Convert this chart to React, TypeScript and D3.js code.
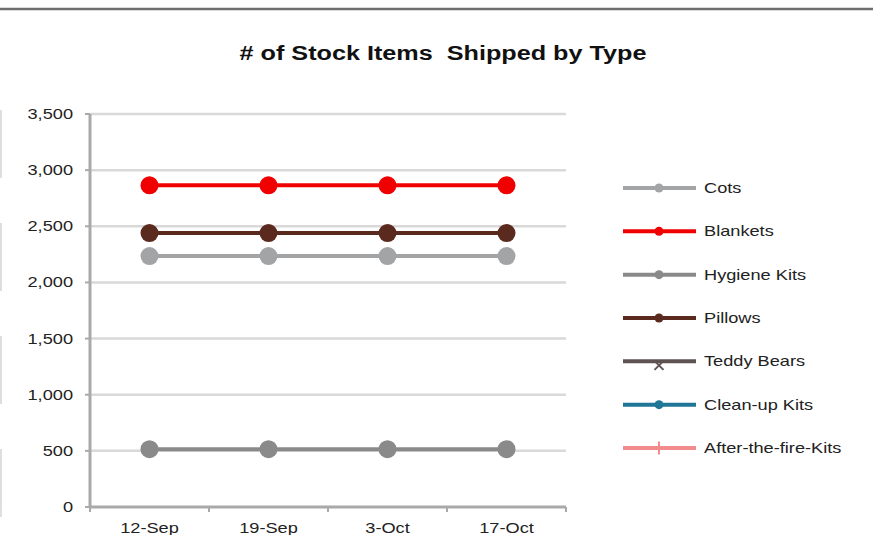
import React from 'react';
import * as d3 from 'd3';

const categories = ['12-Sep', '19-Sep', '3-Oct', '17-Oct'];
const yTicks = [0, 500, 1000, 1500, 2000, 2500, 3000, 3500];

const seriesNames = ['Cots', 'Blankets', 'Hygiene Kits', 'Pillows', 'Teddy Bears', 'Clean-up Kits', 'After-the-fire-Kits'];
const cots = [2235, 2235, 2235, 2235];
const blankets = [2865, 2865, 2865, 2865];
const hygieneKits = [515, 515, 515, 515];
const pillows = [2440, 2440, 2440, 2440];
const teddyBears: (number | null)[] = [null, null, null, null];
const cleanupKits: (number | null)[] = [null, null, null, null];
const afterFireKits: (number | null)[] = [null, null, null, null];

const seriesValues = [cots, blankets, hygieneKits, pillows, teddyBears, cleanupKits, afterFireKits];
const seriesColors = ['#a3a4a6', '#f00000', '#8a8a8a', '#5a2a1e', '#5f5252', '#1f7696', '#f28b8b'];
const seriesMarkers = ['circle', 'circle', 'circle', 'circle', 'x', 'circle', 'plus'];

const W = 873;
const H = 535;
const SX = 1.3; // wide-looking glyphs in the original
const font = '"Liberation Sans", Arial, sans-serif';

const App: React.FC = () => {
  const x = d3.scalePoint<string>().domain(categories).range([90, 566]).padding(0.5);
  const y = d3.scaleLinear().domain([0, 3500]).range([507, 114]);
  const step = x.step();
  const left = 90;
  const right = 566;

  const line = d3.line<number | null>()
    .defined(d => d != null)
    .x((_, i) => x(categories[i]) as number)
    .y(d => y(d as number));

  const legendY = d3.scaleLinear().domain([0, 6]).range([188, 448]);

  const marker = (kind: string, cx: number, cy: number, r: number, color: string) => {
    if (kind === 'x') {
      return (
        <g stroke={color} strokeWidth={2}>
          <line x1={cx - r} y1={cy - r + 4} x2={cx + r} y2={cy + r + 4} />
          <line x1={cx - r} y1={cy + r + 4} x2={cx + r} y2={cy - r + 4} />
        </g>
      );
    }
    if (kind === 'plus') {
      return <line x1={cx} y1={cy - r - 2} x2={cx} y2={cy + r + 2} stroke={color} strokeWidth={2} />;
    }
    return <circle cx={cx} cy={cy} r={r} fill={color} />;
  };

  return (
    <svg width={W} height={H} style={{ position: 'absolute', left: 0, top: 0, background: '#fff' }}>
      <rect x={0} y={0} width={W} height={H} fill="#fff" />
      <line x1={0} y1={9} x2={W} y2={9} stroke="#6e6e6e" strokeWidth={2.5} />
      <line x1={1} y1={110} x2={1} y2={520} stroke="#d4d4d4" strokeWidth={1.5} strokeDasharray="68 45" />

      <g transform={`translate(443,60)`}>
        <text transform={`scale(1.2,1)`} textAnchor="middle" fontFamily={font} fontWeight="bold" fontSize={21} fill="#111" style={{ whiteSpace: 'pre' }}>
          {'# of Stock Items  Shipped by Type'}
        </text>
      </g>

      {/* gridlines */}
      {yTicks.filter(t => t > 0).map(t => (
        <line key={t} x1={left} x2={right} y1={y(t)} y2={y(t)} stroke="#d9d9d9" strokeWidth={2.5} />
      ))}

      {/* y axis */}
      <line x1={left} x2={left} y1={y(3500)} y2={y(0)} stroke="#a9a9a9" strokeWidth={3} />
      {yTicks.map(t => (
        <g key={t}>
          <line x1={left - 5} x2={left} y1={y(t)} y2={y(t)} stroke="#a9a9a9" strokeWidth={2} />
          <g transform={`translate(73,${y(t) + 5})`}>
            <text transform={`scale(${SX},1)`} textAnchor="end" fontFamily={font} fontSize={14} fill="#222">
              {d3.format(',')(t)}
            </text>
          </g>
        </g>
      ))}

      {/* x axis */}
      <line x1={left} x2={right} y1={y(0)} y2={y(0)} stroke="#a9a9a9" strokeWidth={3} />
      {d3.range(categories.length + 1).map(i => (
        <line key={i} x1={left + i * step} x2={left + i * step} y1={y(0)} y2={y(0) + 5} stroke="#a9a9a9" strokeWidth={2} />
      ))}
      {categories.map(c => (
        <g key={c} transform={`translate(${x(c)},533)`}>
          <text transform={`scale(${SX},1)`} textAnchor="middle" fontFamily={font} fontSize={14} fill="#222">
            {c}
          </text>
        </g>
      ))}

      {/* series */}
      {seriesValues.map((vals, si) => (
        <g key={seriesNames[si]}>
          <path d={line(vals) || ''} fill="none" stroke={seriesColors[si]} strokeWidth={4} />
          {vals.map((v, i) => v == null ? null : (
            <g key={i}>{marker(seriesMarkers[si], x(categories[i]) as number, y(v), 9, seriesColors[si])}</g>
          ))}
        </g>
      ))}

      {/* legend */}
      {seriesNames.map((name, i) => {
        const ly = legendY(i);
        return (
          <g key={name}>
            <line x1={623} x2={696} y1={ly} y2={ly} stroke={seriesColors[i]} strokeWidth={4} />
            {marker(seriesMarkers[i], 659, ly, 4.5, seriesColors[i])}
            <g transform={`translate(704,${ly + 5})`}>
              <text transform={`scale(${SX},1)`} fontFamily={font} fontSize={14} fill="#222">
                {name}
              </text>
            </g>
          </g>
        );
      })}
    </svg>
  );
};

export default App;
